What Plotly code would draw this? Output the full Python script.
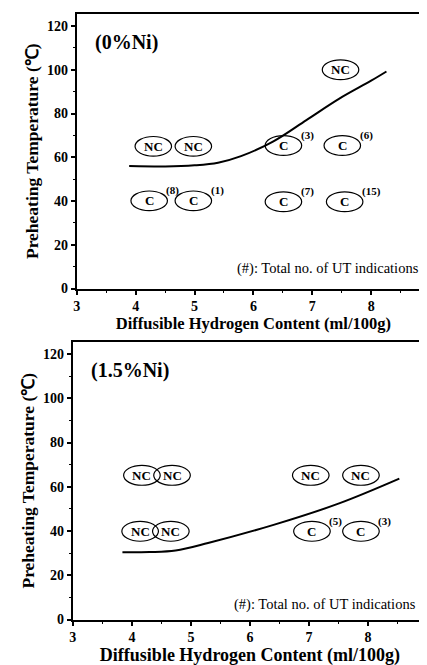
import plotly.graph_objects as go

# ---------------- data ----------------
# Panel 1 (0% Ni)
curve1_x = [3.89, 4.5, 5.0, 5.4, 5.79, 6.34, 6.9, 7.46, 8.0, 8.26]
curve1_y = [56.0, 55.8, 56.3, 57.5, 60.5, 67.3, 77.0, 86.8, 95.0, 99.2]
pts1_x = [4.30, 4.98, 4.23, 4.98, 6.51, 7.51, 6.51, 7.55, 7.48]
pts1_y = [65.0, 65.0, 40.1, 40.1, 65.4, 65.4, 39.7, 39.7, 100.0]
pts1_lab = ["NC", "NC", "C", "C", "C", "C", "C", "C", "NC"]
pts1_sup = ["", "", "(8)", "(1)", "(3)", "(6)", "(7)", "(15)", ""]

# Panel 2 (1.5% Ni)
curve2_x = [3.84, 4.3, 4.74, 5.29, 6.4, 7.51, 8.53]
curve2_y = [30.4, 30.5, 31.2, 34.6, 42.8, 52.5, 63.7]
pts2_x = [4.17, 4.68, 4.14, 4.66, 7.03, 7.88, 7.05, 7.88]
pts2_y = [65.2, 65.2, 39.9, 39.9, 65.2, 65.2, 39.9, 39.9]
pts2_lab = ["NC", "NC", "NC", "NC", "NC", "NC", "C", "C"]
pts2_sup = ["", "", "", "", "", "", "(5)", "(3)"]

panel_titles = ["(0%Ni)", "(1.5%Ni)"]
x_ticks = [3, 4, 5, 6, 7, 8, 9]
y_ticks = [0, 20, 40, 60, 80, 100, 120]
x_title = "Diffusible Hydrogen Content (ml/100g)"
y_title = "Preheating Temperature (\u2103)"
note = "(#): Total no. of UT indications"

# ---------------- style ----------------
W, H = 427, 665
FONT = "Liberation Serif, Times New Roman, serif"
EW, EH = 0.31, 4.5  # ellipse half sizes (data units)

fig = go.Figure()
fig.add_trace(go.Scatter(x=curve1_x, y=curve1_y, mode="lines", line_shape="spline",
                         line=dict(color="black", width=2), xaxis="x", yaxis="y",
                         showlegend=False, hoverinfo="skip"))
fig.add_trace(go.Scatter(x=curve2_x, y=curve2_y, mode="lines", line_shape="spline",
                         line=dict(color="black", width=2), xaxis="x2", yaxis="y2",
                         showlegend=False, hoverinfo="skip"))

shapes = []
annotations = []
panels = [
    ("x", "y", pts1_x, pts1_y, pts1_lab, pts1_sup, 8.85, 9.3),
    ("x2", "y2", pts2_x, pts2_y, pts2_lab, pts2_sup, 8.84, 6.7),
]
for i, (xr, yr, px, py, lab, sup, nx, ny) in enumerate(panels):
    for x, y, t, s in zip(px, py, lab, sup):
        shapes.append(dict(type="circle", xref=xr, yref=yr, x0=x - EW, x1=x + EW,
                           y0=y - EH, y1=y + EH, line=dict(color="black", width=1.2)))
        annotations.append(dict(x=x, y=y, xref=xr, yref=yr, text="<b>%s</b>" % t,
                                showarrow=False, font=dict(family=FONT, size=13, color="black")))
        if s:
            annotations.append(dict(x=x + 0.26, y=y + 4.6, xref=xr, yref=yr, text="<b>%s</b>" % s,
                                    xanchor="left", yanchor="middle", showarrow=False,
                                    font=dict(family=FONT, size=11, color="black")))
    annotations.append(dict(x=3.27, y=112.4, xref=xr, yref=yr, text="<b>%s</b>" % panel_titles[i],
                            xanchor="left", yanchor="middle", showarrow=False,
                            font=dict(family=FONT, size=20, color="black")))
    annotations.append(dict(x=nx, y=ny, xref=xr, yref=yr, text=note,
                            xanchor="right", yanchor="middle", showarrow=False,
                            font=dict(family=FONT, size=14.5, color="black")))


def xaxis(domain, anchor, tsize, standoff):
    return dict(domain=domain, anchor=anchor, range=[3, 9], tickvals=x_ticks,
                ticktext=["<b>%d</b>" % v for v in x_ticks],
                ticks="outside", ticklen=4, tickwidth=1.5, tickcolor="black",
                minor=dict(dtick=0.5, ticks="outside", ticklen=2, tickwidth=1.2, tickcolor="black"),
                showline=True, linecolor="black", linewidth=2, mirror=True,
                showgrid=False, zeroline=False,
                tickfont=dict(family=FONT, size=14, color="black"),
                title=dict(text="<b>%s</b>" % x_title, standoff=standoff,
                           font=dict(family=FONT, size=tsize, color="black")))


def yaxis(domain, anchor):
    return dict(domain=domain, anchor=anchor, range=[0, 125.5], tickvals=y_ticks,
                ticktext=["<b>%d</b>" % v for v in y_ticks],
                ticks="outside", ticklen=4, tickwidth=1.5, tickcolor="black",
                minor=dict(dtick=10, ticks="outside", ticklen=2, tickwidth=1.2, tickcolor="black"),
                showline=True, linecolor="black", linewidth=2, mirror=True,
                showgrid=False, zeroline=False,
                tickfont=dict(family=FONT, size=14, color="black"),
                title=dict(text="<b>%s</b>" % y_title, standoff=4,
                           font=dict(family=FONT, size=17.5, color="black")))


fig.update_layout(
    width=W, height=H,
    margin=dict(l=0, r=0, t=0, b=0),
    paper_bgcolor="white", plot_bgcolor="white",
    font=dict(family=FONT, color="black"),
    xaxis=xaxis([66 / W, 426 / W], "y", 16.5, 2),
    yaxis=yaxis([1 - 284 / H, 1 - 6 / H], "x"),
    xaxis2=xaxis([62 / W, 423 / W], "y2", 18, 0),
    yaxis2=yaxis([1 - 619 / H, 1 - 338 / H], "x2"),
    shapes=shapes,
    annotations=annotations,
    showlegend=False,
)

fig.write_html("out.html")
